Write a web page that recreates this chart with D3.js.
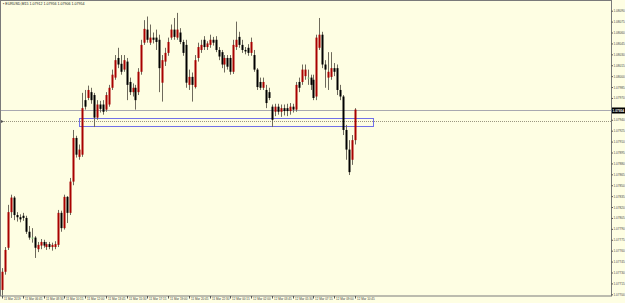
<!DOCTYPE html>
<html>
<head>
<meta charset="utf-8">
<script src="https://cdn.jsdelivr.net/npm/d3@7"></script>
<style>
    html, body { margin: 0; padding: 0; background: #fefee3; overflow: hidden; }
    svg { display: block; font-family: "Liberation Sans", sans-serif; }
</style>
</head>
<body>
<script>
// EURUSD M15 bars, oldest first
var opens = [1.07706, 1.07731, 1.07764, 1.07813, 1.07833, 1.07809, 1.07806, 1.07808, 1.07805, 1.07786,
    1.07778, 1.07778, 1.07762, 1.07767, 1.07772, 1.07765, 1.07769, 1.07765, 1.07765, 1.07768,
    1.07812, 1.07791, 1.07834, 1.07812, 1.07855, 1.07915, 1.07889, 1.07892, 1.07967, 1.07970,
    1.07978, 1.07974, 1.07943, 1.07961, 1.07961, 1.07954, 1.07961, 1.07984, 1.07998, 1.08025,
    1.08017, 1.08009, 1.08020, 1.07992, 1.07978, 1.07984, 1.07978, 1.08006, 1.08046, 1.08064,
    1.08046, 1.08053, 1.08053, 1.08050, 1.07991, 1.08020, 1.08032, 1.08053, 1.08064, 1.08053,
    1.08060, 1.08047, 1.08043, 1.07988, 1.07999, 1.07985, 1.08025, 1.08036, 1.08050, 1.08040,
    1.08043, 1.08050, 1.08050, 1.08036, 1.08033, 1.08016, 1.08025, 1.08025, 1.08006, 1.08040,
    1.08054, 1.08043, 1.08036, 1.08039, 1.08032, 1.08029, 1.08009, 1.07992, 1.07984, 1.07981,
    1.07978, 1.07958, 1.07951, 1.07958, 1.07951, 1.07956, 1.07956, 1.07952, 1.07958, 1.07954,
    1.07992, 1.07992, 1.08000, 1.07998, 1.07998, 1.07995, 1.07972, 1.08039, 1.08057, 1.08016,
    1.07998, 1.07999, 1.08011, 1.08011, 1.07981, 1.07972, 1.07926, 1.07899, 1.07885, 1.07912];
var highs = [1.07736, 1.07765, 1.07823, 1.07837, 1.07835, 1.07813, 1.07810, 1.07812, 1.07808, 1.07794,
    1.07791, 1.07780, 1.07772, 1.07776, 1.07775, 1.07772, 1.07772, 1.07771, 1.07773, 1.07816,
    1.07815, 1.07837, 1.07835, 1.07860, 1.07926, 1.07918, 1.07906, 1.07977, 1.07981, 1.07987,
    1.07984, 1.07977, 1.07967, 1.07966, 1.07967, 1.07978, 1.07988, 1.08009, 1.08029, 1.08039,
    1.08029, 1.08029, 1.08025, 1.07998, 1.07990, 1.07988, 1.08011, 1.08050, 1.08077, 1.08082,
    1.08071, 1.08060, 1.08064, 1.08057, 1.08029, 1.08039, 1.08053, 1.08071, 1.08080, 1.08087,
    1.08066, 1.08050, 1.08050, 1.08009, 1.08005, 1.08029, 1.08046, 1.08050, 1.08055, 1.08048,
    1.08057, 1.08054, 1.08055, 1.08040, 1.08036, 1.08029, 1.08029, 1.08029, 1.08050, 1.08075,
    1.08061, 1.08050, 1.08040, 1.08044, 1.08053, 1.08036, 1.08011, 1.07998, 1.07998, 1.07988,
    1.07984, 1.07961, 1.07962, 1.07962, 1.07961, 1.07961, 1.07962, 1.07963, 1.07962, 1.07992,
    1.07998, 1.08016, 1.08016, 1.08009, 1.08002, 1.08002, 1.08057, 1.08080, 1.08061, 1.08022,
    1.08033, 1.08033, 1.08018, 1.08016, 1.07988, 1.07974, 1.07933, 1.07912, 1.07919, 1.07956];
var lows = [1.07698, 1.07727, 1.07761, 1.07805, 1.07802, 1.07800, 1.07799, 1.07801, 1.07783, 1.07775,
    1.07771, 1.07750, 1.07758, 1.07762, 1.07764, 1.07761, 1.07762, 1.07760, 1.07762, 1.07765,
    1.07786, 1.07789, 1.07798, 1.07809, 1.07850, 1.07888, 1.07885, 1.07889, 1.07954, 1.07967,
    1.07962, 1.07930, 1.07940, 1.07950, 1.07947, 1.07951, 1.07958, 1.07981, 1.07995, 1.08011,
    1.08002, 1.08006, 1.07967, 1.07974, 1.07972, 1.07954, 1.07974, 1.08002, 1.08043, 1.08046,
    1.08043, 1.08045, 1.08036, 1.07978, 1.07965, 1.08014, 1.08028, 1.08050, 1.08050, 1.08050,
    1.08044, 1.08028, 1.07984, 1.07981, 1.07965, 1.07983, 1.08020, 1.08032, 1.08036, 1.08036,
    1.08039, 1.08042, 1.08033, 1.08022, 1.08011, 1.08005, 1.08009, 1.08002, 1.08003, 1.08036,
    1.08039, 1.08032, 1.08030, 1.08028, 1.08028, 1.08006, 1.07981, 1.07981, 1.07981, 1.07956,
    1.07967, 1.07930, 1.07945, 1.07947, 1.07944, 1.07946, 1.07945, 1.07947, 1.07950, 1.07951,
    1.07978, 1.07988, 1.07995, 1.07988, 1.07981, 1.07967, 1.07967, 1.08036, 1.08011, 1.07984,
    1.07981, 1.07995, 1.08000, 1.07974, 1.07967, 1.07919, 1.07885, 1.07864, 1.07878, 1.07906];
var closes = [1.07731, 1.07761, 1.07813, 1.07833, 1.07809, 1.07806, 1.07803, 1.07805, 1.07786, 1.07778,
    1.07778, 1.07764, 1.07768, 1.07772, 1.07767, 1.07769, 1.07765, 1.07768, 1.07769, 1.07812,
    1.07791, 1.07834, 1.07812, 1.07855, 1.07915, 1.07892, 1.07899, 1.07956, 1.07958, 1.07981,
    1.07967, 1.07943, 1.07961, 1.07955, 1.07951, 1.07974, 1.07984, 1.08002, 1.08022, 1.08016,
    1.08006, 1.08022, 1.07988, 1.07978, 1.07984, 1.07967, 1.08006, 1.08043, 1.08065, 1.08050,
    1.08053, 1.08050, 1.08047, 1.08011, 1.08022, 1.08032, 1.08047, 1.08064, 1.08054, 1.08064,
    1.08047, 1.08032, 1.07991, 1.07999, 1.07988, 1.08022, 1.08040, 1.08043, 1.08040, 1.08045,
    1.08050, 1.08046, 1.08036, 1.08027, 1.08016, 1.08025, 1.08013, 1.08006, 1.08043, 1.08050,
    1.08043, 1.08036, 1.08034, 1.08032, 1.08047, 1.08009, 1.07985, 1.07984, 1.07992, 1.07963,
    1.07970, 1.07940, 1.07958, 1.07951, 1.07956, 1.07952, 1.07952, 1.07958, 1.07954, 1.07988,
    1.07984, 1.08009, 1.08009, 1.07998, 1.07988, 1.07970, 1.08053, 1.08057, 1.08016, 1.08009,
    1.08006, 1.08011, 1.08006, 1.07981, 1.07972, 1.07926, 1.07899, 1.07868, 1.07912, 1.07954];

var priceTicks = [1.07700, 1.07715, 1.07730, 1.07745, 1.07760, 1.07775, 1.07790, 1.07805, 1.07820,
    1.07835, 1.07850, 1.07865, 1.07880, 1.07895, 1.07910, 1.07925, 1.07940, 1.07955, 1.07970,
    1.07985, 1.08000, 1.08015, 1.08030, 1.08045, 1.08060, 1.08075, 1.08090];
var timeLabels = ["11 Mar 2019", "11 Mar 06:45", "11 Mar 08:30", "11 Mar 10:15", "11 Mar 12:00",
    "11 Mar 13:45", "11 Mar 15:30", "11 Mar 17:15", "11 Mar 19:00", "11 Mar 20:45", "11 Mar 22:30",
    "12 Mar 00:15", "12 Mar 02:00", "12 Mar 03:45", "12 Mar 05:30", "12 Mar 07:15", "12 Mar 09:00",
    "12 Mar 10:45"];
var barsPerLabel = 7;

var symbolName = "EURUSD,M15";
var bidPrice = 1.07954;
var levelPrice = 1.07938;
var zoneTop = 1.07943, zoneBottom = 1.07932;
var zoneFromBar = 26, zoneToBar = 125;

var width = 625, height = 303;
var plot = {left: 0, top: 0, right: 611, bottom: 296};
var f5 = d3.format(".5f");

var svg = d3.select("body").append("svg")
    .attr("width", width)
    .attr("height", height);

svg.append("rect")
    .attr("width", width).attr("height", height)
    .attr("fill", "#fefee3");

var x = d3.scaleLinear()
    .domain([0, opens.length - 1])
    .range([2, 355]);

var y = d3.scaleLinear()
    .domain([priceTicks[0], priceTicks[priceTicks.length - 1]])
    .range([294.3, 10.7]);

var bars = opens.map(function(o, i) {
    return {i: i, o: o, h: highs[i], l: lows[i], c: closes[i]};
});

// blue zone rectangle and the dotted level
svg.append("rect")
    .attr("x", Math.round(x(zoneFromBar)) + 0.5)
    .attr("y", Math.round(y(zoneTop)) + 0.5)
    .attr("width", Math.round(x(zoneToBar) - x(zoneFromBar)))
    .attr("height", Math.round(y(zoneBottom) - y(zoneTop)))
    .attr("fill", "none")
    .attr("stroke", "#7070e8")
    .attr("stroke-width", 1);

svg.append("line")
    .attr("x1", plot.left).attr("x2", plot.right)
    .attr("y1", Math.round(y(levelPrice)) + 0.5)
    .attr("y2", Math.round(y(levelPrice)) + 0.5)
    .attr("stroke", "#9a9680")
    .attr("stroke-dasharray", "1,1");

svg.append("path")
    .attr("d", "M1," + (Math.round(y(levelPrice)) - 1) + "l3,1.5l-3,1.5z")
    .attr("fill", "#555");

// bid line
svg.append("line")
    .attr("x1", plot.left).attr("x2", plot.right)
    .attr("y1", Math.round(y(bidPrice)) + 0.5)
    .attr("y2", Math.round(y(bidPrice)) + 0.5)
    .attr("stroke", "#a8a8b0");

// candles
var candle = svg.append("g").selectAll("g")
    .data(bars)
    .enter().append("g");

candle.append("line")
    .attr("x1", function(d) { return Math.round(x(d.i)) + 0.5; })
    .attr("x2", function(d) { return Math.round(x(d.i)) + 0.5; })
    .attr("y1", function(d) { return y(d.h); })
    .attr("y2", function(d) { return y(d.l); })
    .attr("stroke", "#6e6a5c")
    .attr("stroke-width", 1);

candle.append("rect")
    .attr("x", function(d) { return Math.round(x(d.i)) - 0.5; })
    .attr("width", 2)
    .attr("y", function(d) { return y(Math.max(d.o, d.c)); })
    .attr("height", function(d) {
        return Math.max(1, Math.abs(y(d.o) - y(d.c)));
    })
    .attr("fill", function(d) {
        if (d.o == d.c) return "#80d880";
        return d.c > d.o ? "#a80000" : "#000000";
    });

// frame
svg.append("rect")
    .attr("x", 0.5).attr("y", 0.5)
    .attr("width", plot.right).attr("height", plot.bottom - 0.5)
    .attr("fill", "none")
    .attr("stroke", "#7a7a7a");

// price axis
var yAxis = d3.axisRight(y)
    .tickValues(priceTicks)
    .tickSize(1.5)
    .tickPadding(0.5)
    .tickFormat(f5);

var gy = svg.append("g")
    .attr("transform", "translate(" + (plot.right + 0.5) + ",0)")
    .call(yAxis);
gy.select(".domain").remove();
gy.selectAll("line").attr("stroke", "#555");
gy.selectAll("text")
    .attr("fill", "#444")
    .style("font-size", "3.1px")
    .style("display", function(d) {
        // the bid box covers the label that sits under it
        return Math.abs(y(d) - y(bidPrice)) < 4 ? "none" : null;
    });

// bid label on axis
var bidY = Math.round(y(bidPrice));
svg.append("rect")
    .attr("x", plot.right + 1).attr("y", bidY - 2.5)
    .attr("width", width - plot.right - 1).attr("height", 6)
    .attr("fill", "#000");
svg.append("text")
    .attr("x", plot.right + 1.5).attr("y", bidY + 1.6)
    .attr("fill", "#fff")
    .style("font-size", "3.2px")
    .style("font-weight", "bold")
    .text(f5(bidPrice));

// time labels
var timeG = svg.append("g").selectAll("g")
    .data(timeLabels)
    .enter().append("g")
    .attr("transform", function(d, k) {
        return "translate(" + (Math.round(x(k * barsPerLabel)) + 0.5) + "," + plot.bottom + ")";
    });
timeG.append("line")
    .attr("y1", 0).attr("y2", 2.5)
    .attr("stroke", "#555");
timeG.append("text")
    .attr("x", 1.5).attr("y", 4.4)
    .attr("fill", "#444")
    .style("font-size", "3px")
    .text(function(d) { return d; });

// header
var last = bars[bars.length - 1];
svg.append("text")
    .attr("x", 3).attr("y", 5.2)
    .attr("fill", "#222")
    .style("font-size", "3.6px")
    .text("\u25aa " + symbolName + "  " + f5(last.o) + " " + f5(last.h) + " " +
        f5(last.l) + " " + f5(last.c));
</script>
</body>
</html>
